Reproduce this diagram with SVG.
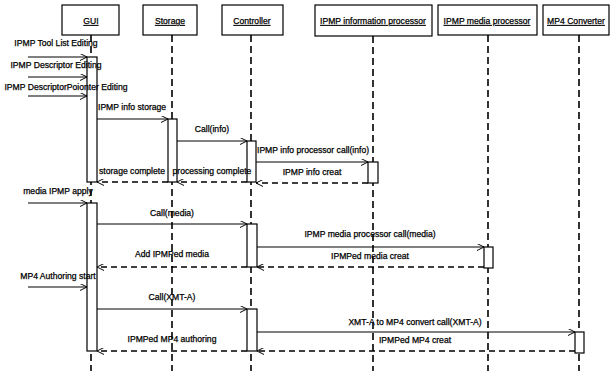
<svg xmlns="http://www.w3.org/2000/svg" width="611" height="371" viewBox="0 0 611 371">
<style>
.box{fill:#fff;stroke:#000;stroke-width:1.2}
.act{fill:#fff;stroke:#000;stroke-width:1.2}
.life{stroke:#000;stroke-width:1.6;stroke-dasharray:7 4;fill:none}
.msg{stroke:#000;stroke-width:1;fill:none;marker-end:url(#open)}
.ret{stroke:#000;stroke-width:1.6;stroke-dasharray:6 4;fill:none;marker-end:url(#open)}
text{font-family:"Liberation Sans",Arial,sans-serif;font-size:8.6px;fill:#000;stroke:#000;stroke-width:0.25}
.t{text-anchor:middle;text-decoration:underline}
.m{text-anchor:middle}
</style>
<defs>
<marker id="open" viewBox="0 0 10 10" refX="10" refY="5" markerWidth="7" markerHeight="7" markerUnits="userSpaceOnUse" orient="auto">
<path d="M0,0 L10,5 L0,10" fill="none" stroke="#000" stroke-width="1.4"/>
</marker>
</defs>
<g id="lifelines">
<line class="life" x1="91" y1="35" x2="91" y2="371"/>
<line class="life" x1="172" y1="35" x2="172" y2="371"/>
<line class="life" x1="251" y1="35" x2="251" y2="371"/>
<line class="life" x1="373" y1="36" x2="373" y2="371"/>
<line class="life" x1="488" y1="35" x2="488" y2="371"/>
<line class="life" x1="579" y1="35" x2="579" y2="371"/>
</g>
<g id="gui"><rect class="box" x="62" y="5" width="57" height="30"/><text class="t" x="91" y="24">GUI</text></g>
<g id="storage"><rect class="box" x="143" y="5" width="54" height="30"/><text class="t" x="170" y="24">Storage</text></g>
<g id="controller"><rect class="box" x="222" y="5" width="61" height="30"/><text class="t" x="252" y="24">Controller</text></g>
<g id="info-processor"><rect class="box" x="315" y="5" width="117" height="31"/><text class="t" x="373" y="24">IPMP information processor</text></g>
<g id="media-processor"><rect class="box" x="438" y="5" width="99" height="30"/><text class="t" x="487" y="24">IPMP media processor</text></g>
<g id="mp4-converter"><rect class="box" x="543" y="5" width="66" height="30"/><text class="t" x="576" y="24">MP4 Converter</text></g>
<g id="activations">
<rect class="act" x="87" y="57" width="10" height="125"/>
<rect class="act" x="168" y="119" width="9" height="63"/>
<rect class="act" x="247" y="141" width="9" height="41"/>
<rect class="act" x="368" y="162" width="10" height="21"/>
<rect class="act" x="87" y="203" width="10" height="148"/>
<rect class="act" x="247" y="224" width="10" height="43"/>
<rect class="act" x="484" y="247" width="9" height="21"/>
<rect class="act" x="247" y="309" width="10" height="42"/>
<rect class="act" x="575" y="332" width="9" height="21"/>
</g>
<g id="connectors">
<line class="msg" x1="28" y1="57" x2="87" y2="57"/>
<line class="msg" x1="28" y1="77" x2="87" y2="77"/>
<line class="msg" x1="28" y1="96" x2="87" y2="96"/>
<line class="msg" x1="97" y1="119" x2="168" y2="119"/>
<line class="msg" x1="177" y1="141" x2="247" y2="141"/>
<line class="msg" x1="256" y1="162" x2="368" y2="162"/>
<line class="ret" x1="368" y1="183" x2="256" y2="183"/>
<line class="ret" x1="247" y1="182" x2="177" y2="182"/>
<line class="ret" x1="168" y1="182" x2="97" y2="182"/>
<line class="msg" x1="28" y1="203" x2="87" y2="203"/>
<line class="msg" x1="97" y1="224" x2="247" y2="224"/>
<line class="msg" x1="257" y1="247" x2="484" y2="247"/>
<line class="ret" x1="484" y1="267" x2="257" y2="267"/>
<line class="ret" x1="247" y1="267" x2="97" y2="267"/>
<line class="msg" x1="28" y1="287" x2="87" y2="287"/>
<line class="msg" x1="97" y1="309" x2="247" y2="309"/>
<line class="msg" x1="257" y1="332" x2="575" y2="332"/>
<line class="ret" x1="575" y1="351" x2="257" y2="351"/>
<line class="ret" x1="247" y1="351" x2="97" y2="351"/>
</g>
<g id="labels">
<text class="m" x="56" y="46">IPMP Tool List Editing</text>
<text class="m" x="56" y="68">IPMP Descriptor Editing</text>
<text class="m" x="66" y="90">IPMP DescriptorPoionter Editing</text>
<text x="98" y="110">IPMP info storage</text>
<text class="m" x="212" y="132">Call(info)</text>
<text x="257" y="153">IPMP info processor call(info)</text>
<text class="m" x="312" y="175">IPMP info creat</text>
<text class="m" x="212" y="174">processing complete</text>
<text class="m" x="132" y="174">storage complete</text>
<text class="m" x="58" y="194">media IPMP apply</text>
<text class="m" x="172" y="216">Call(media)</text>
<text class="m" x="370" y="237">IPMP media processor call(media)</text>
<text class="m" x="370" y="259">IPMPed media creat</text>
<text class="m" x="172" y="257">Add IPMPed media</text>
<text class="m" x="58" y="279">MP4 Authoring start</text>
<text class="m" x="172" y="300">Call(XMT-A)</text>
<text class="m" x="415" y="325">XMT-A to MP4 convert call(XMT-A)</text>
<text class="m" x="415" y="343">IPMPed MP4 creat</text>
<text class="m" x="172" y="342">IPMPed MP4 authoring</text>
</g>
</svg>
